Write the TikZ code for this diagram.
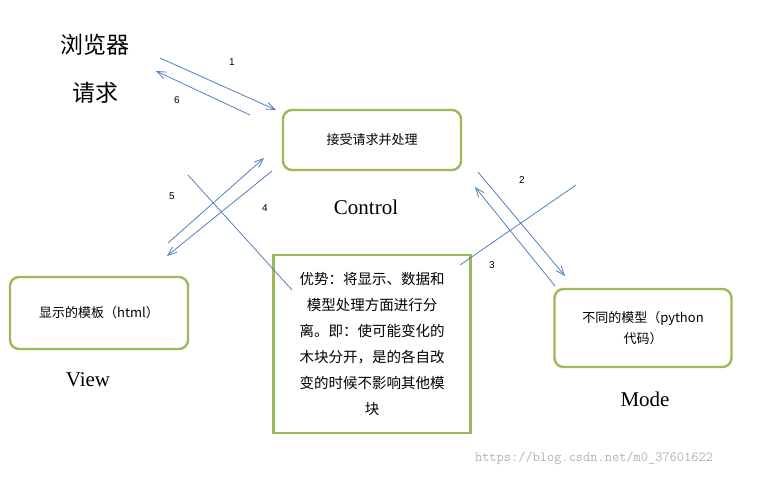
\documentclass[tikz,border=0pt]{standalone}
\usepackage{fontspec}
\setmainfont{Liberation Serif}
\newfontfamily\cjk{Noto Sans CJK SC}
\newfontfamily\numfont{Liberation Sans}
\usetikzlibrary{positioning}
\usetikzlibrary{arrows.meta}
\definecolor{boxgreen}{HTML}{9BBB59}
\definecolor{linkblue}{HTML}{4F81BD}
\begin{document}
\begin{tikzpicture}[
  x=1pt, y=-1pt,
  font=\cjk\fontsize{13}{16}\selectfont,
  modbox/.style={draw=boxgreen, line width=2.4pt, rounded corners=9pt, align=center, inner sep=4pt},
  notebox/.style={draw=boxgreen, line width=2.4pt, align=center, inner sep=6pt},
  flow/.style={-{Straight Barb[length=9pt,width=7pt]}, linkblue, line width=0.8pt},
  hint/.style={linkblue, line width=0.8pt},
  biglabel/.style={font=\fontsize{21}{24}\selectfont},
  numlabel/.style={font=\numfont\fontsize{10}{12}\selectfont}
]
\useasboundingbox (0,0) rectangle (771,478);

% nodes
\node[font=\cjk\fontsize{23}{26}\selectfont] (browser) at (95,45) {浏览器};
\node[font=\cjk\fontsize{23}{26}\selectfont] (request) at (95,93) {请求};
\node[modbox, minimum width=178, minimum height=60] (control) at (372,140) {接受请求并处理};
\node[biglabel] (controlname) at (366,207) {Control};
\node[modbox, minimum width=178, minimum height=72] (view) at (99,313) {显示的模板（html）};
\node[biglabel] (viewname) at (88,380) {View};
\node[modbox, minimum width=177, minimum height=78] (mode) at (643,328) {不同的模型（python\\[5pt]代码）};
\node[biglabel] (modename) at (645,399) {Mode};
\node[notebox, minimum width=197, minimum height=178, font=\cjk\fontsize{14.5}{17}\selectfont] (note) at (372,344)
  {优势：将显示、数据和\\[9pt]模型处理方面进行分\\[9pt]离。即：使可能变化的\\[9pt]木块分开，是的各自改\\[9pt]变的时候不影响其他模\\[9pt]块};
\node[font=\ttfamily\fontsize{14}{16}\selectfont, text=black!30] (mark) at (594,458) {https://blog.csdn.net/m0\_37601622};

% end points
\coordinate (a1s) at (160,58);  \coordinate (a1e) at (276,110);
\coordinate (a6s) at (250,115); \coordinate (a6e) at (156,71);
\coordinate (a5s) at (168,243); \coordinate (a5e) at (264,158);
\coordinate (a4s) at (272,171); \coordinate (a4e) at (167,256);
\coordinate (a2s) at (478,172); \coordinate (a2e) at (565,276);
\coordinate (a3s) at (555,286); \coordinate (a3e) at (475,187);
\coordinate (h1s) at (188,175); \coordinate (h1e) at (292,290);
\coordinate (h2s) at (576,185); \coordinate (h2e) at (460,265);

% arrows
\draw[flow] (a1s) -- (a1e);
\draw[flow] (a6s) -- (a6e);
\draw[flow] (a5s) -- (a5e);
\draw[flow] (a4s) -- (a4e);
\draw[flow] (a2s) -- (a2e);
\draw[flow] (a3s) -- (a3e);
\draw[hint] (h1s) -- (h1e);
\draw[hint] (h2s) -- (h2e);

% numbers
\node[numlabel] (n1) at (232,62) {1};
\node[numlabel] (n6) at (177,100) {6};
\node[numlabel] (n5) at (172,196) {5};
\node[numlabel] (n4) at (265,208) {4};
\node[numlabel] (n2) at (522,180) {2};
\node[numlabel] (n3) at (492,265) {3};
\end{tikzpicture}
\end{document}
